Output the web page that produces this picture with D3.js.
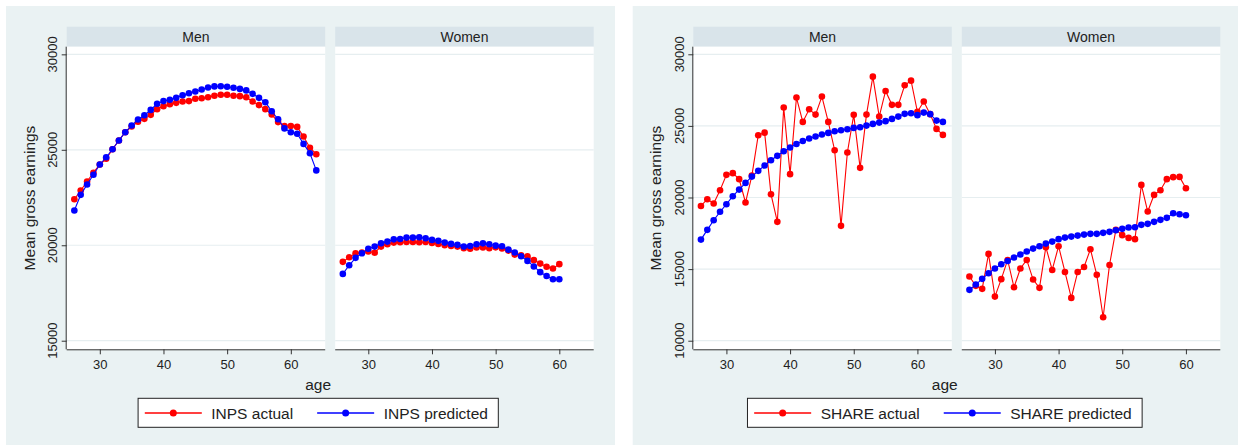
<!DOCTYPE html>
<html><head><meta charset="utf-8">
<script src="https://cdn.jsdelivr.net/npm/d3@7"></script>
<style>
html,body{margin:0;padding:0;background:#fff;}
svg{display:block;font-family:"Liberation Sans",Arial,sans-serif;}
</style></head>
<body><svg id="c" width="1238" height="445"></svg>
<script>
// ---- data ----
const agesMen = d3.range(26, 65);
const agesWomen = d3.range(26, 61);
const xTicks = [30, 40, 50, 60];
const yTicksINPS = [15000, 20000, 25000, 30000];
const yTicksSHARE = [10000, 15000, 20000, 25000, 30000];
const panels = ["Men", "Women"];
const seriesNamesINPS = ["INPS actual", "INPS predicted"];
const seriesNamesSHARE = ["SHARE actual", "SHARE predicted"];

const inpsMenActual = [22410,22870,23340,23800,24230,24530,25030,25490,25920,26220,26470,26620,26830,27130,27280,27390,27460,27530,27550,27670,27700,27750,27830,27880,27880,27830,27810,27750,27530,27340,27130,26850,26450,26250,26250,26200,25700,25110,24770];
const inpsMenPred = [21820,22640,23180,23690,24230,24610,25030,25490,25920,26270,26590,26810,27090,27410,27550,27620,27720,27860,27960,28050,28160,28260,28320,28330,28300,28250,28190,28110,27930,27720,27490,27020,26600,26120,25920,25840,25310,24820,23920];
const inpsWomenActual = [19130,19370,19580,19620,19670,19610,19930,20050,20140,20160,20170,20170,20160,20170,20120,20070,20000,19960,19930,19840,19820,19880,19880,19840,19890,19830,19720,19510,19470,19420,19220,19040,18870,18780,19010];
const inpsWomenPred = [18500,18950,19340,19580,19820,19930,20100,20190,20310,20330,20400,20400,20420,20370,20280,20230,20140,20070,20020,19930,19960,20050,20100,20050,19980,19950,19770,19620,19420,19180,18890,18590,18390,18220,18220];
const shareMenActual = [19410,19880,19580,20510,21580,21700,21280,19650,21530,24350,24530,20230,18300,26280,21630,26980,25280,26160,25790,27050,25280,23300,18020,23140,25770,22070,25790,28440,25650,27440,26470,26470,27840,28160,25980,26700,25820,24790,24370];
const shareMenPred = [17060,17740,18410,19000,19530,20090,20550,21020,21460,21860,22230,22600,22910,23230,23490,23740,23950,24120,24260,24400,24510,24630,24700,24770,24860,24910,25020,25140,25230,25330,25490,25650,25840,25880,25750,25930,25820,25370,25280];
const shareWomenActual = [14480,13830,13620,16060,13080,14300,15640,13730,15040,15640,14270,13690,16530,14940,16600,14800,12990,14800,15150,16390,14600,11640,15290,17740,17370,17180,17090,20880,19020,20180,20510,21280,21420,21440,20650];
const shareWomenPred = [13550,13920,14320,14710,15040,15340,15570,15810,16020,16230,16430,16600,16780,16920,17090,17200,17270,17340,17410,17460,17460,17530,17600,17710,17810,17900,17920,18090,18160,18300,18440,18580,18900,18830,18760];

// ---- styles ----
const BG = "#eaf2f3", STRIP = "#d9e4ea", GRID = "#e6eef0";
const RED = "#ff0000", BLUE = "#0000ff";
const svg = d3.select("#c");
svg.append("rect").attr("x",6).attr("y",6).attr("width",609).attr("height",439).attr("fill",BG);
svg.append("rect").attr("x",632.7).attr("y",6).attr("width",605.3).attr("height",439).attr("fill",BG);

function drawGraph(cfg){
  const g = svg.append("g");
  const top = 46.7, bottom = 349.3, pw = 258.5, gap = 10;
  const y = d3.scaleLinear().domain(cfg.yDomain).range([bottom, top]);
  const data = [
    {ages: agesMen, a: cfg.menA, p: cfg.menP},
    {ages: agesWomen, a: cfg.womenA, p: cfg.womenP}
  ];
  panels.forEach((name, i) => {
    const left = cfg.left + i * (pw + gap);
    const x = d3.scaleLinear().domain([24.8, 65.4]).range([left, left + pw]);
    // strip
    g.append("rect").attr("x", left).attr("y", 26.7).attr("width", pw).attr("height", 20).attr("fill", STRIP);
    g.append("text").attr("x", left + pw/2).attr("y", 41.5).attr("text-anchor","middle")
      .attr("font-size", 14).attr("fill","#222").text(name);
    // plot region
    g.append("rect").attr("x", left).attr("y", top).attr("width", pw).attr("height", bottom - top).attr("fill", "#fff");
    // grid
    g.selectAll(null).data(cfg.yTicks).enter().append("line")
      .attr("x1", left).attr("x2", left + pw)
      .attr("y1", d => y(d)).attr("y2", d => y(d))
      .attr("stroke", GRID).attr("stroke-width", 1.2);
    // x axis
    const xa = g.append("g").attr("transform", `translate(0,${bottom})`)
      .call(d3.axisBottom(x).tickValues(xTicks).tickSize(5).tickPadding(5.5).tickFormat(d3.format("d")));
    xa.select(".domain").attr("stroke","#333").attr("d", `M${left},0.5H${left+pw}`);
    xa.selectAll(".tick line").attr("stroke","#333");
    xa.selectAll("text").attr("font-size", 13).attr("fill","#222")
      .attr("font-family","'Liberation Sans',Arial,sans-serif");
    if (i === 0) {
      const ya = g.append("g").attr("transform", `translate(${left},0)`)
        .call(d3.axisLeft(y).tickValues(cfg.yTicks).tickSize(5).tickFormat(d3.format("d")));
      ya.select(".domain").attr("stroke","#333").attr("d", `M-0.5,${top}V${bottom}`);
      ya.selectAll(".tick line").attr("stroke","#333");
      ya.selectAll("text").remove();
      g.selectAll(null).data(cfg.yTicks).enter().append("text")
        .attr("transform", d => `translate(${left - 9.5},${y(d)}) rotate(-90)`)
        .attr("text-anchor","middle").attr("font-size", 13).attr("fill","#222").text(d => d);
      g.append("text").attr("transform", `translate(${left - 32},${(top+bottom)/2}) rotate(-90)`)
        .attr("text-anchor","middle").attr("font-size", 15.5).attr("fill","#222").text("Mean gross earnings");
    }
    // series
    const d = data[i];
    [[d.a, RED], [d.p, BLUE]].forEach(([vals, col]) => {
      const pts = d.ages.map((a, k) => [x(a), y(vals[k])]);
      g.append("path").attr("d", d3.line()(pts)).attr("fill","none").attr("stroke", col).attr("stroke-width", 1.1);
      g.selectAll(null).data(pts).enter().append("circle")
        .attr("cx", p => p[0]).attr("cy", p => p[1]).attr("r", 3.3).attr("fill", col);
    });
  });
  const center = cfg.left + 251.5;
  g.append("text").attr("x", center).attr("y", 389.5).attr("text-anchor","middle")
    .attr("font-size", 15.5).attr("fill","#222").text("age");
  // legend
  const lg = g.append("g");
  const box = lg.append("rect").attr("y", 398.3).attr("height", 29).attr("fill","#fff")
    .attr("stroke","#222").attr("stroke-width",1);
  let cx = 0;
  const items = [];
  cfg.names.forEach((nm, k) => {
    const col = k === 0 ? RED : BLUE;
    const it = lg.append("g");
    it.append("line").attr("x1", cx + 6.7).attr("x2", cx + 63.7).attr("y1", 413).attr("y2", 413)
      .attr("stroke", col).attr("stroke-width", 1.6);
    it.append("circle").attr("cx", cx + 35.2).attr("cy", 413).attr("r", 3.5).attr("fill", col);
    const t = it.append("text").attr("x", cx + 73.2).attr("y", 418.5).attr("font-size", 15.5)
      .attr("fill","#222").text(nm);
    cx += 73.2 + t.node().getComputedTextLength() + 17.3;
    items.push(it);
  });
  const width = cx - 17.3 + 10.4;
  const x0 = center - width/2;
  box.attr("x", x0).attr("width", width);
  items.forEach(it => it.attr("transform", `translate(${x0},0)`));
}

drawGraph({left: 66.7, yDomain: [14550, 30400], yTicks: yTicksINPS,
  menA: inpsMenActual, menP: inpsMenPred, womenA: inpsWomenActual, womenP: inpsWomenPred, names: seriesNamesINPS});
drawGraph({left: 693.3, yDomain: [9400, 30530], yTicks: yTicksSHARE,
  menA: shareMenActual, menP: shareMenPred, womenA: shareWomenActual, womenP: shareWomenPred, names: seriesNamesSHARE});
</script></body></html>
